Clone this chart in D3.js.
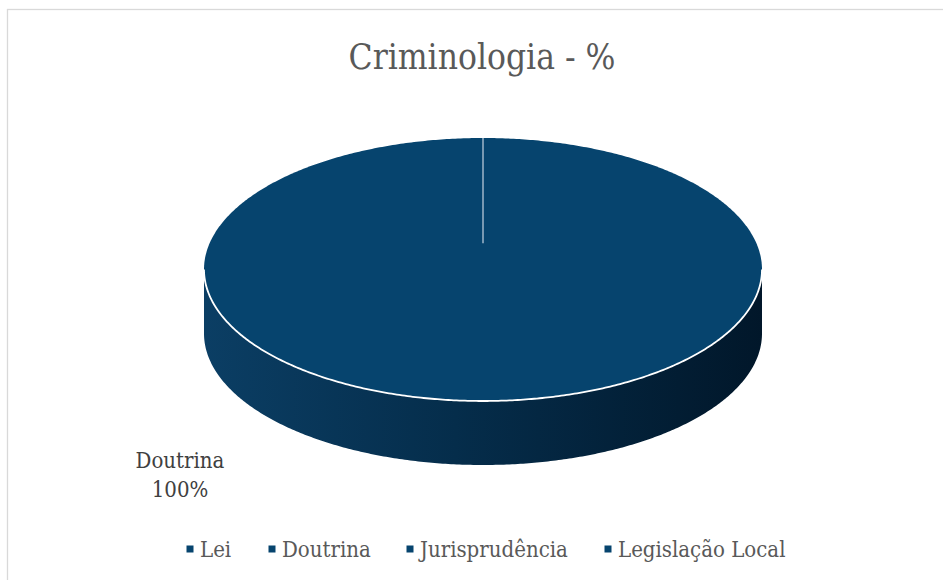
<!DOCTYPE html>
<html><head><meta charset="utf-8">
<script src="https://cdn.jsdelivr.net/npm/d3@7"></script>
<style>
html,body{margin:0;padding:0;background:#fff;}
svg{display:block;}
text{font-family:"DejaVu Serif","Liberation Serif",serif;font-stretch:condensed;}
</style></head>
<body>
<svg id="chart" width="943" height="580"></svg>
<script>
const title = "Criminologia - %";
const categories = ["Lei", "Doutrina", "Jurisprudência", "Legislação Local"];
const values = [0, 100, 0, 0];
const colors = ["#06446e", "#06446e", "#06446e", "#06446e"];

const W = 943, H = 580;
const svg = d3.select("#chart");

// chart border
svg.append("rect").attr("x", 7.5).attr("y", 9.5).attr("width", W + 10).attr("height", H + 10)
  .attr("fill", "#fff").attr("stroke", "#d9d9d9").attr("stroke-width", 1.3);

svg.append("text").attr("x", 482).attr("y", 69).attr("text-anchor", "middle")
  .attr("font-size", 35).attr("fill", "#595959").text(title);

const cx = 483, cy = 269.5, rx = 279, ry = 131.5, depth = 64;
const total = d3.sum(values);
const pie = d3.pie().sort(null).value(d => d)(values);

const defs = svg.append("defs");
const sideGrad = defs.append("linearGradient").attr("id", "side")
  .attr("gradientUnits", "userSpaceOnUse").attr("x1", cx - rx).attr("x2", cx + rx).attr("y1", 0).attr("y2", 0);
sideGrad.append("stop").attr("offset", "0%").attr("stop-color", "#0b3e64");
sideGrad.append("stop").attr("offset", "45%").attr("stop-color", "#052d4b");
sideGrad.append("stop").attr("offset", "100%").attr("stop-color", "#01172a");

const px = a => cx + rx * Math.sin(a);
const py = (a, h) => cy - ry * Math.cos(a) + (h || 0);

function arcPoints(a0, a1, h) {
  const n = Math.max(2, Math.ceil(Math.abs(a1 - a0) / 0.01));
  return d3.range(n + 1).map(i => {
    const a = a0 + (a1 - a0) * i / n;
    return [px(a), py(a, h)];
  });
}
const line = d3.line();

pie.forEach((d, i) => {
  if (d.endAngle - d.startAngle <= 0) return;
  const s = Math.max(d.startAngle, Math.PI / 2), e = Math.min(d.endAngle, 3 * Math.PI / 2);
  if (e > s) {
    const top = arcPoints(s, e, 0), bot = arcPoints(e, s, depth);
    svg.append("path").attr("d", line(top.concat(bot)) + "Z").attr("fill", "url(#side)");
  }
});
pie.forEach((d, i) => {
  if (d.endAngle - d.startAngle <= 0) return;
  const full = d.endAngle - d.startAngle >= 2 * Math.PI - 1e-6;
  let pts = arcPoints(d.startAngle, d.endAngle, 0);
  if (!full) pts = [[cx, cy]].concat(pts);
  svg.append("path").attr("d", line(pts) + "Z").attr("fill", colors[i]);
  const s = Math.max(d.startAngle, Math.PI / 2), e = Math.min(d.endAngle, 3 * Math.PI / 2);
  if (e > s) {
    svg.append("path").attr("d", line(arcPoints(s, e, 0))).attr("fill", "none")
      .attr("stroke", "#ffffff").attr("stroke-width", 1.8);
  }
  svg.append("line").attr("x1", px(d.startAngle)).attr("y1", py(d.startAngle))
    .attr("x2", px(d.startAngle)).attr("y2", py(d.startAngle) + ry * 0.8)
    .attr("stroke", "#9fb6ca").attr("stroke-width", 1.5);
  const lab = svg.append("text").attr("text-anchor", "middle").attr("font-size", 22).attr("fill", "#404040");
  lab.append("tspan").attr("x", 180).attr("y", 468).text(categories[i]);
  lab.append("tspan").attr("x", 180).attr("y", 497).text(Math.round(d.value / total * 100) + "%");
});

// legend
const legX = [190, 272, 410, 608];
const leg = svg.append("g");
categories.forEach((c, i) => {
  leg.append("rect").attr("x", legX[i] - 3.5).attr("y", 545.5).attr("width", 7).attr("height", 7).attr("fill", colors[i]);
  leg.append("text").attr("x", legX[i] + 10).attr("y", 557).attr("font-size", 22).attr("fill", "#595959").text(c);
});
</script>
</body></html>
